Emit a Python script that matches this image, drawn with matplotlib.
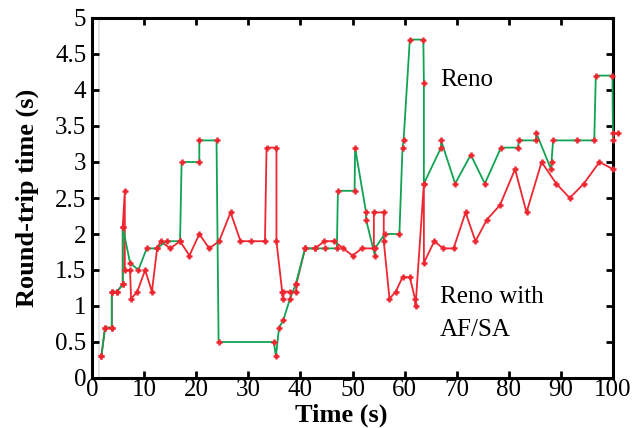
#!/usr/bin/env python3
# -*- coding: utf-8 -*-

"""
Round-trip time: Reno vs Reno with AF/SA
"""

import matplotlib
matplotlib.use('Agg')
import matplotlib.pyplot as plt

# Reno (green line)
reno_t = [1.8, 2.5, 3.8, 3.8, 4.8, 5.9, 5.9, 7.3, 8.9, 10.5, 12.4, 14.3, 16.9, 17.2,
          20.6, 20.6, 23.9, 24.3, 34.9, 35.3, 35.9, 36.7, 38.0, 39.1, 40.9, 42.8,
          44.7, 47.0, 47.2, 50.4, 50.5, 52.6, 52.6, 54.3, 54.3, 56.2, 59.0, 59.6,
          59.8, 61.0, 63.6, 63.7, 63.7, 67.0, 67.0, 69.7, 72.7, 75.4, 78.5, 81.8,
          81.9, 85.2, 85.3, 88.1, 88.2, 88.5, 93.0, 96.4, 96.7, 99.9, 100.0, 100.0,
          101.0]
reno_rtt = [0.3, 0.7, 0.7, 1.2, 1.2, 1.3, 2.1, 1.6, 1.5, 1.8, 1.8, 1.9, 1.9, 3.0,
            3.0, 3.3, 3.3, 0.5, 0.5, 0.3, 0.7, 0.8, 1.1, 1.3, 1.8, 1.8,
            1.8, 1.8, 2.6, 2.6, 3.2, 2.3, 2.2, 1.7, 1.8, 2.0, 2.0, 3.2,
            3.3, 4.7, 4.7, 4.1, 2.7, 3.2, 3.3, 2.7, 3.1, 2.7, 3.2, 3.2,
            3.3, 3.3, 3.4, 2.9, 3.0, 3.3, 3.3, 3.3, 4.2, 4.2, 3.3, 3.4,
            3.4]

# Reno with AF/SA (red line)
afsa_t = [1.8, 2.5, 3.8, 3.8, 4.8, 5.9, 5.9, 6.3, 6.3, 7.3, 7.5, 8.7, 10.2, 11.5,
          12.5, 13.2, 15.0, 16.9, 18.7, 20.6, 22.5, 24.4, 26.6, 28.5, 30.5, 33.2,
          33.5, 35.4, 35.4, 36.5, 36.6, 36.7, 38.0, 39.2, 39.2, 40.9, 42.8, 44.6,
          46.5, 48.2, 50.0, 51.8, 54.1, 54.1, 56.0, 56.0, 57.1, 58.3, 59.6, 61.0,
          62.0, 62.1, 63.7, 63.7, 65.7, 67.4, 69.4, 71.7, 73.6, 75.8, 78.3, 81.2,
          83.4, 86.3, 89.1, 91.7, 94.4, 97.4, 100.0]
afsa_rtt = [0.3, 0.7, 0.7, 1.2, 1.2, 1.3, 2.1, 2.6, 1.5, 1.5, 1.1, 1.2, 1.5, 1.2,
            1.8, 1.9, 1.8, 1.9, 1.7, 2.0, 1.8, 1.9, 2.3, 1.9, 1.9, 1.9,
            3.2, 3.2, 1.9, 1.2, 1.1, 1.2, 1.2, 1.2, 1.3, 1.8, 1.8, 1.9,
            1.9, 1.8, 1.7, 1.8, 1.8, 2.3, 2.3, 1.9, 1.1, 1.2, 1.4, 1.4,
            1.1, 1.0, 2.7, 1.6, 1.9, 1.8, 1.8, 2.3, 1.9, 2.2, 2.4, 2.9,
            2.3, 3.0, 2.7, 2.5, 2.7, 3.0, 2.9]

x_ticks = [0, 10, 20, 30, 40, 50, 60, 70, 80, 90, 100]
y_ticks = [0, 0.5, 1, 1.5, 2, 2.5, 3, 3.5, 4, 4.5, 5]
y_tick_labels = ['0', '0.5', '1', '1.5', '2', '2.5', '3', '3.5', '4', '4.5', '5']

GREEN = '#10a352'
RED = '#ee2630'

plt.rcParams['font.family'] = ['Liberation Serif', 'DejaVu Serif']


def make_plot():
    fig = plt.figure(figsize=(6.38, 4.28), dpi=100)
    ax = fig.add_axes([92 / 638, 1 - 378 / 428, 521 / 638, 360 / 428])

    # light grey strip near the left border
    ax.axvspan(1.1, 1.6, color='#e4e4e4', lw=0, zorder=0)

    ax.plot(afsa_t, afsa_rtt, color=RED, lw=1.3, zorder=2, clip_on=False)
    ax.plot(reno_t, reno_rtt, color=GREEN, lw=1.3, zorder=3, clip_on=False)
    ax.plot(afsa_t, afsa_rtt, ls='none', marker='+', ms=5, mew=1.8,
            color=RED, zorder=4, clip_on=False)
    ax.plot(reno_t, reno_rtt, ls='none', marker='+', ms=5, mew=1.8,
            color=RED, zorder=4, clip_on=False)

    ax.set_xlim(0, 100)
    ax.set_ylim(0, 5)
    ax.set_xticks(x_ticks)
    ax.set_yticks(y_ticks)
    ax.set_yticklabels(y_tick_labels)

    for side in ax.spines.values():
        side.set_linewidth(2.2)
    ax.tick_params(direction='in', length=5, width=2, labelsize=18,
                   top=True, right=True)
    ax.tick_params(axis='x', pad=1)
    ax.tick_params(axis='y', pad=4)

    ax.set_xlabel('Time (s)', fontsize=19, fontweight='bold')
    ax.xaxis.set_label_coords(0.478, -0.103)
    ax.xaxis.label.set_va('center')
    ax.set_ylabel('Round-trip time (s)', fontsize=19, fontweight='bold')
    ax.yaxis.set_label_coords(-0.125, 0.5)
    ax.yaxis.label.set_va('center')

    ax.text(66.8, 4.14, 'Reno', fontsize=18, va='center', ha='left')
    ax.text(66.8, 1.12, 'Reno with', fontsize=18, va='center', ha='left')
    ax.text(66.8, 0.66, 'AF/SA', fontsize=18, va='center', ha='left')

    return fig


def main():
    fig = make_plot()
    fig.savefig('out.png', dpi=100)


if __name__ == "__main__":
    main()
